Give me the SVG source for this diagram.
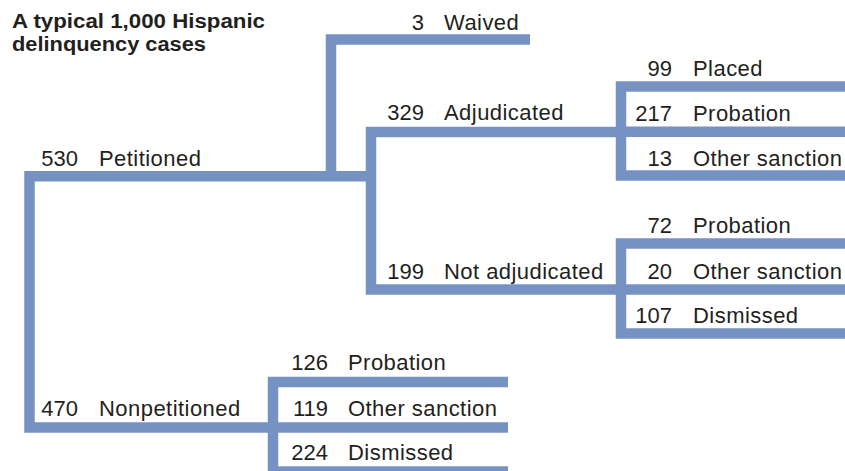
<svg xmlns="http://www.w3.org/2000/svg" width="845" height="471" viewBox="0 0 845 471">
  <style>
    .ln { fill: none; stroke: #7692c3; stroke-width: 10.5; stroke-linejoin: miter; stroke-linecap: butt; }
    .t { font-family: "Liberation Sans", Arial, sans-serif; font-size: 22px; fill: #231f20; }
    .l { letter-spacing: 0.45px; }
    .n { text-anchor: end; }
    .title { font-family: "Liberation Sans", Arial, sans-serif; font-size: 20px; font-weight: bold; fill: #231f20; }
  </style>
  <rect width="845" height="471" fill="#ffffff"/>
  <g id="title">
    <text class="title" x="12" y="28" textLength="253" lengthAdjust="spacingAndGlyphs">A typical 1,000 Hispanic</text>
    <text class="title" x="12" y="51" textLength="194" lengthAdjust="spacingAndGlyphs">delinquency cases</text>
  </g>
  <g id="connectors">
    <path class="ln" d="M 376 176.2 H 29.5 V 427.5 H 278"/>
    <path class="ln" d="M 331 176 V 39.5 H 530"/>
    <path class="ln" d="M 626 132 H 371 V 289.5 H 626"/>
    <path class="ln" d="M 850 86.5 H 621 V 175.5 H 850 M 621 131.8 H 850"/>
    <path class="ln" d="M 850 243.5 H 621 V 333.5 H 850 M 621 289.5 H 850"/>
    <path class="ln" d="M 508 382 H 273 V 471.5 H 508 M 273 427.5 H 508"/>
  </g>
  <g id="petitioned">
    <text class="t n" x="78" y="165.5">530</text>
    <text class="t l" x="99" y="165.5">Petitioned</text>
  </g>
  <g id="nonpetitioned">
    <text class="t n" x="78" y="415.5">470</text>
    <text class="t l" x="99" y="415.5">Nonpetitioned</text>
  </g>
  <g id="waived">
    <text class="t n" x="424" y="29.5">3</text>
    <text class="t l" x="444" y="29.5">Waived</text>
  </g>
  <g id="adjudicated">
    <text class="t n" x="424" y="120">329</text>
    <text class="t l" x="444" y="120">Adjudicated</text>
  </g>
  <g id="not-adjudicated">
    <text class="t n" x="424" y="279">199</text>
    <text class="t l" x="444" y="279">Not adjudicated</text>
  </g>
  <g id="adj-placed">
    <text class="t n" x="672" y="76">99</text>
    <text class="t l" x="693" y="76">Placed</text>
  </g>
  <g id="adj-probation">
    <text class="t n" x="672" y="120.5">217</text>
    <text class="t l" x="693" y="120.5">Probation</text>
  </g>
  <g id="adj-other">
    <text class="t n" x="672" y="165.5">13</text>
    <text class="t l" x="693" y="165.5">Other sanction</text>
  </g>
  <g id="nadj-probation">
    <text class="t n" x="672" y="233">72</text>
    <text class="t l" x="693" y="233">Probation</text>
  </g>
  <g id="nadj-other">
    <text class="t n" x="672" y="279">20</text>
    <text class="t l" x="693" y="279">Other sanction</text>
  </g>
  <g id="nadj-dismissed">
    <text class="t n" x="672" y="323">107</text>
    <text class="t l" x="693" y="323">Dismissed</text>
  </g>
  <g id="np-probation">
    <text class="t n" x="328" y="370">126</text>
    <text class="t l" x="348" y="370">Probation</text>
  </g>
  <g id="np-other">
    <text class="t n" x="328" y="415.5">119</text>
    <text class="t l" x="348" y="415.5">Other sanction</text>
  </g>
  <g id="np-dismissed">
    <text class="t n" x="328" y="460">224</text>
    <text class="t l" x="348" y="460">Dismissed</text>
  </g>
</svg>
